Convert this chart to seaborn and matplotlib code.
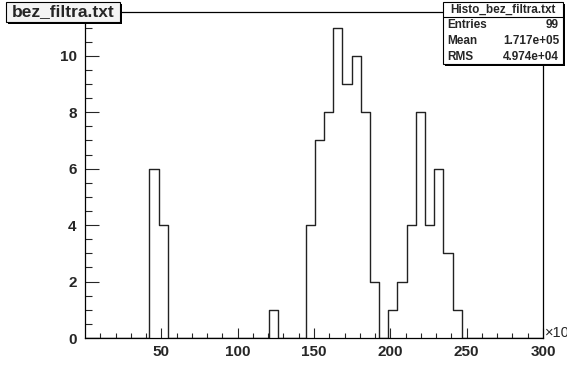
import numpy as np
import matplotlib
matplotlib.use("Agg")
import matplotlib.pyplot as plt
from matplotlib.patches import Rectangle
import pandas as pd
import seaborn as sns

# histogram: 50 bins from 0 to 301 (x in units of 10^3)
bin_lo = 0
bin_hi = 301
n_bins = 50
counts = [0, 0, 0, 0, 0, 0, 0, 6, 4, 0,
          0, 0, 0, 0, 0, 0, 0, 0, 0, 0,
          1, 0, 0, 0, 4, 7, 8, 11, 9, 10,
          8, 2, 0, 1, 2, 4, 8, 4, 6, 3,
          1, 0, 0, 0, 0, 0, 0, 0, 0, 0]
hist_title = "bez_filtra.txt"
stats_name = "Histo_bez_filtra.txt"
stats_rows = [("Entries", "99"), ("Mean", "1.717e+05"), ("RMS", "4.974e+04")]
x_ticks = [50, 100, 150, 200, 250, 300]
y_ticks = [0, 2, 4, 6, 8, 10]

sns.set_style("ticks")
plt.rcParams["font.family"] = ["Liberation Sans", "DejaVu Sans"]
plt.rcParams["font.weight"] = "bold"

W, H = 567, 377
fig = plt.figure(figsize=(W / 100, H / 100), dpi=100)
fig.patch.set_facecolor("white")


def fx(px):
    return px / W


def fy(py):
    return 1 - py / H


ax = fig.add_axes([fx(85), fy(338), fx(543) - fx(85), fy(12) - fy(338)])
ax.set_facecolor("white")

edges = np.linspace(bin_lo, bin_hi, n_bins + 1)
df = pd.DataFrame({"x": (edges[:-1] + edges[1:]) / 2, "n": counts})
sns.histplot(data=df, x="x", weights="n", bins=n_bins, binrange=(bin_lo, bin_hi),
             element="step", fill=False, color="#222222", linewidth=1, ax=ax)

ax.set_xlim(0, 300)
ax.set_ylim(0, 11.55)
ax.set_xlabel("")
ax.set_ylabel("")
ax.set_xticks(x_ticks)
ax.set_xticks(np.arange(10, 300, 10), minor=True)
ax.set_yticks(y_ticks)
ax.set_yticks(np.arange(0, 11.5, 0.5), minor=True)
ax.tick_params(axis="x", which="major", direction="in", length=7, width=0.8,
               labelsize=11, pad=5)
ax.tick_params(axis="x", which="minor", direction="in", length=3.5, width=0.8)
ax.tick_params(axis="y", which="major", direction="in", length=10, width=0.8,
               labelsize=11, pad=6)
ax.tick_params(axis="y", which="minor", direction="in", length=5, width=0.8)
for lbl in ax.get_xticklabels() + ax.get_yticklabels():
    lbl.set_fontweight("bold")
for sp in ax.spines.values():
    sp.set_visible(True)
    sp.set_linewidth(0.9)
    sp.set_color("black")

# axis multiplier, cut off at the right edge as in the original
fig.text(fx(545), fy(333), "×10", fontsize=10.5, fontweight="normal", va="center", ha="left")

# title box with shadow
fig.patches.append(Rectangle((fx(8), fy(24)), fx(114), fy(0) - fy(20), transform=fig.transFigure,
                             facecolor="black", edgecolor="none", zorder=5))
fig.patches.append(Rectangle((fx(6), fy(22)), fx(114), fy(0) - fy(20), transform=fig.transFigure,
                             facecolor="#f4f4f4", edgecolor="black", linewidth=0.8, zorder=6))
fig.text(fx(63), fy(12), hist_title, fontsize=12.5, fontweight="bold", ha="center",
         va="center", zorder=7)

# stats box with shadow
fig.patches.append(Rectangle((fx(445), fy(66)), fx(120), fy(0) - fy(62), transform=fig.transFigure,
                             facecolor="black", edgecolor="none", zorder=5))
fig.patches.append(Rectangle((fx(443), fy(64)), fx(120), fy(0) - fy(62), transform=fig.transFigure,
                             facecolor="white", edgecolor="black", linewidth=0.8, zorder=6))
fig.lines.append(plt.Line2D([fx(443), fx(563)], [fy(17), fy(17)], transform=fig.transFigure,
                            color="black", linewidth=0.8, zorder=7))
fig.text(fx(503), fy(10), stats_name, fontsize=8.5, fontweight="bold", ha="center",
         va="center", zorder=7)
for i, (name, val) in enumerate(stats_rows):
    y = fy(24.5 + i * 16)
    fig.text(fx(447), y, name, fontsize=8.5, fontweight="bold", ha="left", va="center", zorder=7)
    fig.text(fx(559), y, val, fontsize=8.5, fontweight="bold", ha="right", va="center", zorder=7)

fig.savefig("out.png", dpi=100)
